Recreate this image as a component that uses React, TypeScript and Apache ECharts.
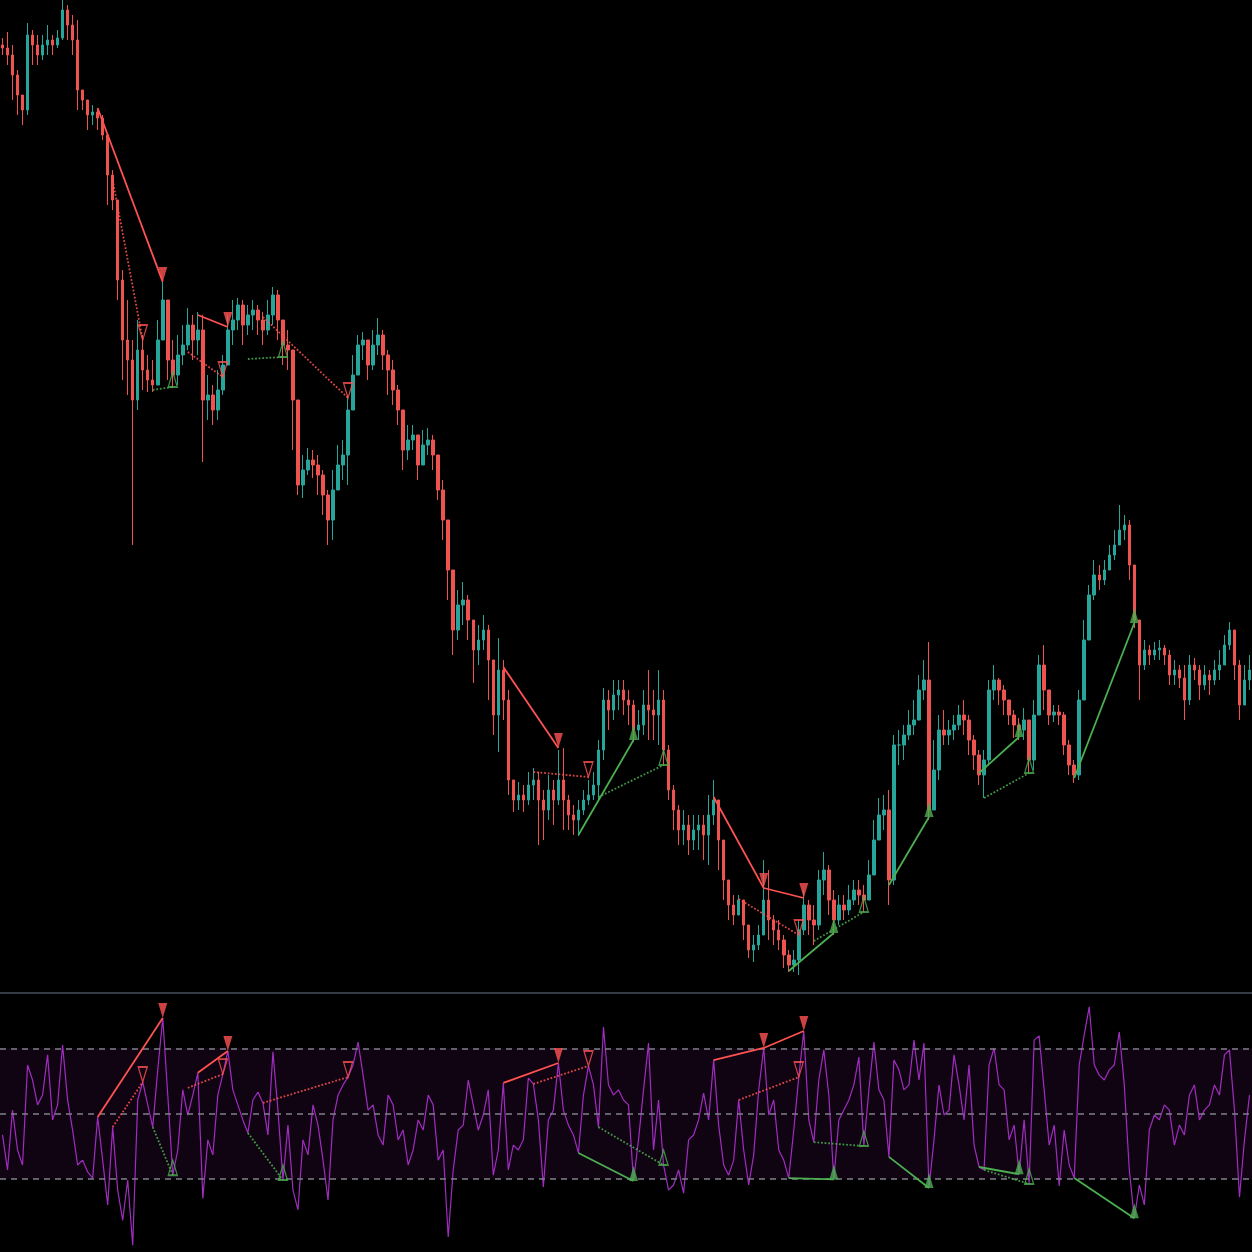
import React, { useEffect, useRef } from "react";
import * as echarts from "echarts";

// ---- price data (one bar per slot; open of each bar = previous close) ----
const firstOpen = 955;
const closes = [
  952, 945, 925, 905, 890, 965, 955, 945, 955, 960,
  955, 962, 990, 975, 960, 910, 900, 885, 888, 882,
  865, 825, 800, 720, 660, 640, 600, 650, 630, 620,
  615, 660, 700, 640, 625, 645, 655, 675, 660, 670,
  600, 605, 590, 610, 635, 670, 680, 695, 675, 685,
  690, 680, 670, 685, 705, 680, 655, 650, 600, 515,
  530, 540, 535, 525, 505, 480, 510, 535, 545, 590,
  625, 655, 660, 635, 655, 665, 645, 630, 610, 590,
  550, 560, 565, 535, 555, 560, 545, 510, 480, 430,
  370, 395, 400, 380, 350, 360, 370, 340, 285, 330,
  300, 220, 200, 205, 200, 215, 220, 200, 190, 210,
  200, 220, 200, 185, 180, 190, 200, 205, 215, 250,
  300, 290, 305, 310, 300, 295, 270, 275, 295, 290,
  285, 300, 250, 210, 190, 170, 175, 160, 170, 175,
  165, 185, 200, 160, 120, 95, 85, 100, 75, 50,
  55, 65, 100, 80, 70, 60, 45, 35, 40, 70,
  95, 80, 75, 120, 130, 100, 80, 95, 90, 100,
  110, 105, 100, 125, 160, 185, 190, 120, 255, 255,
  265, 275, 280, 310, 320, 190, 230, 270, 265, 270,
  275, 285, 280, 260, 245, 225, 240, 310, 320, 310,
  300, 285, 275, 270, 280, 240, 285, 335, 310, 285,
  288, 285, 255, 235, 225, 300, 360, 405, 425, 420,
  430, 445, 455, 470, 475, 435, 380, 335, 350, 345,
  350, 352, 345, 325, 330, 322, 300, 335, 330, 315,
  325, 320, 330, 335, 355, 370, 335, 295, 320, 330,
];
const highs = [
  962, 968, 955, 930, 905, 977, 970, 965, 965, 975,
  965, 970, 1000, 995, 985, 980, 910, 900, 895, 892,
  885, 865, 830, 800, 730, 700, 660, 680, 665, 645,
  640, 680, 718, 700, 660, 665, 675, 692, 685, 688,
  685, 625, 615, 630, 645, 685, 700, 702, 700, 695,
  700, 695, 688, 700, 713, 710, 680, 670, 650, 600,
  545, 552, 550, 545, 530, 510, 530, 555, 560, 605,
  645, 665, 668, 655, 670, 682, 670, 650, 640, 615,
  580, 575, 575, 560, 570, 572, 565, 540, 520, 480,
  415, 410, 418, 405, 375, 375, 385, 375, 320, 362,
  340, 310, 215, 218, 215, 228, 232, 228, 210, 225,
  220, 250, 252, 205, 195, 200, 210, 220, 228, 260,
  312, 310, 320, 320, 320, 310, 300, 290, 310, 330,
  310, 330, 310, 255, 215, 195, 190, 185, 185, 185,
  185, 205, 220, 200, 160, 120, 105, 105, 100, 75,
  65, 75, 140, 130, 85, 80, 65, 50, 50, 80,
  110, 100, 95, 130, 148, 135, 110, 105, 105, 115,
  120, 120, 115, 140, 180, 202, 205, 210, 265, 270,
  275, 290, 300, 325, 340, 358, 260, 285, 290, 280,
  285, 295, 300, 285, 265, 250, 250, 320, 335, 322,
  315, 300, 290, 282, 292, 280, 300, 345, 355, 300,
  295, 295, 288, 260, 240, 310, 380, 415, 440, 435,
  440, 455, 470, 495, 485, 480, 435, 380, 360, 355,
  358, 360, 355, 350, 340, 335, 335, 345, 342, 335,
  335, 330, 340, 350, 365, 378, 360, 340, 335, 345,
];
const lows = [
  945, 935, 900, 885, 875, 885, 935, 935, 940, 945,
  945, 952, 960, 960, 945, 890, 890, 870, 875, 870,
  860, 795, 790, 700, 620, 605, 455, 590, 610, 608,
  608, 615, 670, 620, 612, 615, 635, 650, 640, 645,
  538, 580, 575, 580, 605, 640, 655, 670, 655, 665,
  670, 665, 655, 665, 675, 660, 635, 630, 550, 505,
  502, 525, 522, 505, 485, 455, 460, 510, 520, 515,
  600, 625, 640, 620, 630, 645, 630, 605, 595, 575,
  530, 540, 550, 520, 540, 545, 530, 500, 460, 400,
  345, 360, 375, 360, 317, 335, 350, 300, 265, 248,
  280, 205, 188, 190, 188, 195, 200, 155, 160, 180,
  175, 195, 170, 170, 165, 164, 185, 195, 200, 200,
  240, 270, 280, 290, 285, 275, 258, 260, 265, 260,
  260, 255, 235, 200, 170, 155, 155, 145, 150, 150,
  140, 135, 175, 130, 100, 80, 75, 85, 60, 42,
  38, 50, 75, 60, 55, 50, 32, 28, 28, 25,
  65, 65, 55, 70, 105, 85, 65, 75, 80, 85,
  95, 95, 88, 100, 130, 160, 170, 95, 115, 235,
  240, 260, 265, 280, 300, 180, 200, 220, 255, 255,
  260, 270, 265, 245, 230, 215, 202, 235, 300, 295,
  285, 275, 262, 260, 260, 228, 230, 300, 290, 275,
  278, 275, 245, 225, 217, 220, 300, 360, 400, 410,
  415, 430, 440, 455, 460, 420, 372, 300, 330, 335,
  340, 340, 335, 315, 315, 312, 280, 295, 320, 300,
  310, 305, 315, 320, 340, 350, 320, 280, 295, 310,
];

// ---- RSI ----
const rsi = [
  43.5, 32.8, 51.1, 38.9, 34.3, 64.9, 60.3, 52.7, 55.7, 68.0,
  48.1, 52.7, 71.0, 54.2, 45.0, 34.3, 35.8, 32.2, 30.3, 49.0,
  35.8, 22.1, 45.9, 26.6, 17.4, 29.7, 9.8, 54.2, 59.7, 52.7,
  45.9, 63.4, 79.3, 55.7, 31.2, 38.9, 57.3, 49.6, 55.7, 62.5,
  24.1, 42.0, 37.4, 55.7, 62.1, 69.2, 57.3, 52.7, 48.1, 44.1,
  54.2, 56.6, 53.3, 43.5, 68.9, 51.1, 29.7, 46.5, 26.6, 20.6,
  42.0, 37.4, 52.7, 46.5, 35.8, 23.6, 48.1, 55.7, 58.8, 61.2,
  64.9, 71.9, 61.8, 51.1, 52.7, 43.5, 40.4, 55.7, 52.7, 42.0,
  45.0, 34.3, 38.9, 48.1, 45.0, 55.7, 52.7, 35.8, 38.9, 12.3,
  32.8, 45.0, 46.5, 60.3, 52.7, 45.0, 49.6, 57.3, 31.2, 38.9,
  59.4, 32.8, 40.4, 38.9, 42.0, 60.9, 59.1, 48.1, 27.6, 48.1,
  51.1, 65.5, 51.1, 46.5, 43.5, 38.0, 55.7, 64.6, 58.8, 45.9,
  76.5, 58.8, 55.7, 57.3, 54.2, 52.7, 29.4, 42.0, 57.3, 71.6,
  38.9, 54.2, 34.3, 26.6, 28.2, 32.8, 25.7, 42.0, 43.5, 48.1,
  56.3, 48.1, 66.4, 46.5, 34.3, 31.2, 35.8, 54.2, 38.9, 28.2,
  37.4, 57.3, 70.1, 49.6, 54.2, 38.9, 35.8, 30.3, 45.0, 61.2,
  75.3, 48.1, 41.3, 60.3, 69.5, 55.7, 29.9, 48.1, 51.1, 54.2,
  58.8, 67.3, 40.1, 57.3, 71.9, 57.3, 54.2, 36.8, 66.4, 63.4,
  57.3, 58.8, 72.5, 60.3, 71.6, 27.3, 42.0, 58.8, 49.6, 51.1,
  68.0, 58.8, 48.1, 64.9, 40.4, 33.7, 32.8, 64.9, 70.1, 58.8,
  57.3, 42.0, 46.5, 31.5, 48.1, 28.5, 72.5, 73.8, 57.3, 40.4,
  46.5, 27.9, 45.0, 34.3, 30.3, 64.9, 74.1, 82.7, 64.9, 61.8,
  60.3, 63.4, 64.9, 75.0, 58.8, 32.8, 18.0, 28.2, 22.1, 45.0,
  49.6, 48.1, 52.7, 51.1, 40.4, 46.5, 43.5, 55.7, 58.8, 48.1,
  51.1, 52.7, 58.8, 55.7, 68.0, 69.5, 51.1, 24.5, 42.0, 55.7,
];
const rsiLevels = [70, 50, 30];

// ---- divergences: [startBar, startPrice, endBar, endPrice, startRsi, endRsi] ----
const bearRegular = [
  [19, 892, 32, 718, 49.0, 79.3],
  [39, 685, 45, 673, 62.5, 69.2],
  [100, 333, 111, 252, 59.4, 65.5],
  [142, 203, 152, 112, 66.4, 70.1],
  [152, 112, 160, 102, 70.1, 75.3],
];
const bearHidden = [
  [22, 820, 28, 660, 45.9, 59.7],
  [37, 648, 44, 623, 57.9, 62.1],
  [52, 683, 69, 602, 53.3, 61.2],
  [106, 228, 117, 223, 59.1, 64.6],
  [147, 101, 159, 65, 54.2, 61.2],
];
const bullRegular = [
  [115, 165, 126, 260, 38.0, 29.4],
  [157, 29, 166, 67, 30.3, 29.9],
  [177, 115, 185, 183, 36.8, 27.3],
  [195, 227, 203, 263, 33.7, 31.5],
  [214, 222, 226, 377, 30.3, 18.0],
];
const bullHidden = [
  [30, 610, 34, 613, 45.9, 31.2],
  [49, 641, 56, 643, 44.1, 29.7],
  [119, 203, 132, 235, 45.9, 34.3],
  [162, 59, 172, 88, 41.3, 40.1],
  [196, 202, 205, 227, 32.8, 28.5],
];

const UP = "#26a69a";
const DOWN = "#ef5350";
const BEAR = "#ff5252";
const BULL = "#4caf50";
const RSI_COLOR = "#a02cc0";

export default function App() {
  const ref = useRef<HTMLDivElement>(null);

  useEffect(() => {
    if (!ref.current) return;
    const chart = echarts.init(ref.current, null, { renderer: "svg" });
    const cats = closes.map((_, i) => String(i));
    const candles = closes.map((c, i) => {
      const o = i === 0 ? firstOpen : closes[i - 1];
      return [o, c, Math.min(lows[i], o, c), Math.max(highs[i], o, c)];
    });

    const series: any[] = [
      {
        type: "candlestick",
        xAxisIndex: 0,
        yAxisIndex: 0,
        data: candles,
        barWidth: 3,
        z: 2,
        itemStyle: {
          color: UP,
          color0: DOWN,
          borderColor: UP,
          borderColor0: DOWN,
          borderWidth: 1,
        },
      },
      {
        type: "line",
        xAxisIndex: 1,
        yAxisIndex: 1,
        data: rsi,
        symbol: "none",
        z: 3,
        lineStyle: { color: RSI_COLOR, width: 1.2 },
        markArea: {
          silent: true,
          itemStyle: { color: "rgba(156,39,176,0.1)" },
          data: [[{ yAxis: 70 }, { yAxis: 30 }]],
        },
        markLine: {
          silent: true,
          symbol: ["none", "none"],
          label: { show: false },
          lineStyle: { color: "#7d808a", type: [6, 5], width: 1.5 },
          data: rsiLevels.map((v) => ({ yAxis: v })),
        },
      },
    ];

    const groups = [
      { list: bearRegular, color: BEAR, dotted: false, down: true, filled: true },
      { list: bearHidden, color: BEAR, dotted: true, down: true, filled: false },
      { list: bullRegular, color: BULL, dotted: false, down: false, filled: true },
      { list: bullHidden, color: BULL, dotted: true, down: false, filled: false },
    ];

    groups.forEach((g) => {
      [0, 1].forEach((panel) => {
        g.list.forEach((d) => {
          const a = panel === 0 ? d[1] : d[4];
          const b = panel === 0 ? d[3] : d[5];
          series.push({
            type: "line",
            xAxisIndex: panel,
            yAxisIndex: panel,
            data: [
              [d[0], a],
              [d[2], b],
            ],
            symbol: "none",
            silent: true,
            z: 5,
            lineStyle: {
              color: g.color,
              width: g.dotted ? 1.8 : 1.8,
              type: g.dotted ? "dotted" : "solid",
              opacity: g.dotted ? 0.85 : 1,
            },
          });
        });
        series.push({
          type: "scatter",
          xAxisIndex: panel,
          yAxisIndex: panel,
          data: g.list.map((d) => [d[2], panel === 0 ? d[3] : d[5]]),
          symbol: "triangle",
          symbolSize: [9, 15],
          symbolRotate: g.down ? 180 : 0,
          symbolOffset: [0, -7.5],
          silent: true,
          z: 6,
          itemStyle: g.filled
            ? { color: g.color }
            : { color: "rgba(0,0,0,0)", borderColor: g.color, borderWidth: 1.5 },
        });
      });
    });

    chart.setOption({
      animation: false,
      backgroundColor: "#000000",
      grid: [
        { left: 0, right: 0, top: 0, height: 990 },
        { left: 0, right: 0, top: 996, bottom: 0 },
      ],
      xAxis: [
        { type: "category", gridIndex: 0, data: cats, show: false, boundaryGap: true },
        { type: "category", gridIndex: 1, data: cats, show: false, boundaryGap: true },
      ],
      yAxis: [
        { type: "value", gridIndex: 0, min: 10, max: 1000, show: false, splitLine: { show: false } },
        { type: "value", gridIndex: 1, min: 7.7, max: 86, show: false, splitLine: { show: false } },
      ],
      graphic: [
        {
          type: "rect",
          left: 0,
          top: 992,
          shape: { width: 1252, height: 2 },
          style: { fill: "#363a45" },
          silent: true,
        },
      ],
      series,
    });

    return () => chart.dispose();
  }, []);

  return (
    <div
      ref={ref}
      style={{
        position: "absolute",
        left: 0,
        top: 0,
        width: 1252,
        height: 1252,
        background: "#000",
      }}
    />
  );
}
